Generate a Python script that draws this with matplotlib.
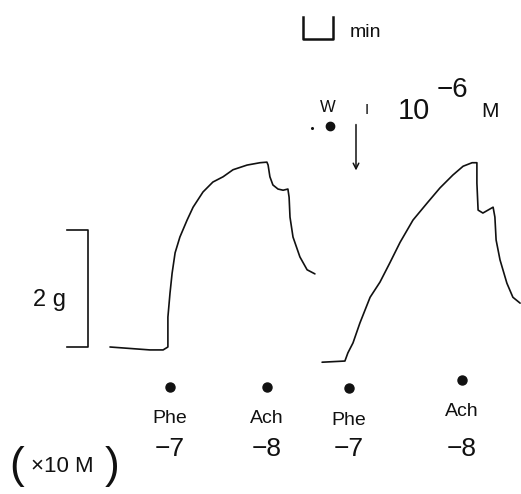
import matplotlib
matplotlib.use("Agg")
import matplotlib.pyplot as plt

plt.rcParams["font.family"] = ["Liberation Sans", "DejaVu Sans"]

# trace 1 (control) : time in min, tension in g
t1 = [0.0, 1.33, 1.77, 1.93, 1.93, 2.0, 2.07, 2.17, 2.33, 2.57, 2.77, 3.1,
      3.43, 3.77, 4.1, 4.57, 5.0, 5.23, 5.27, 5.33, 5.43, 5.6, 5.77, 5.93,
      5.97, 6.0, 6.1, 6.33, 6.57, 6.83]
g1 = [0.0, -0.05, -0.05, 0.0, 0.51, 0.92, 1.26, 1.61, 1.88, 2.17, 2.39, 2.65,
      2.82, 2.91, 3.03, 3.11, 3.15, 3.16, 3.11, 2.91, 2.77, 2.70, 2.68, 2.70,
      2.56, 2.22, 1.88, 1.54, 1.32, 1.25]

# trace 2 (after W I 1e-6 M)
t2 = [7.07, 7.83, 7.93, 8.1, 8.33, 8.67, 9.0, 9.33, 9.67, 10.1, 10.57, 11.0,
      11.43, 11.77, 12.07, 12.23, 12.23, 12.27, 12.43, 12.6, 12.77, 12.83,
      12.87, 13.0, 13.23, 13.43, 13.67]
g2 = [-0.26, -0.24, -0.10, 0.07, 0.41, 0.85, 1.11, 1.44, 1.79, 2.17, 2.46, 2.72,
      2.94, 3.09, 3.15, 3.15, 2.80, 2.34, 2.29, 2.34, 2.39, 2.22, 1.83, 1.49,
      1.09, 0.85, 0.75]

# drug additions
inj_t = [2.0, 5.23, 7.97, 11.73]
inj_drug = ["Phe", "Ach", "Phe", "Ach"]
inj_logdose = [-7, -8, -7, -8]

SCALE_G = 2
SCALE_MIN = 1
INK = "#111111"

fig = plt.figure(figsize=(5.21, 4.94), dpi=100, facecolor="white")
ax = fig.add_axes([0, 0, 1, 1])
ax.set_xlim(-110 / 30, 411 / 30)
ax.set_ylim(-147 / 58.5, 347 / 58.5)
ax.axis("off")

ax.plot(t1, g1, color=INK, lw=1.2, solid_capstyle="round", solid_joinstyle="round")
ax.plot(t2, g2, color=INK, lw=1.2, solid_capstyle="round", solid_joinstyle="round")

# injection dots and labels
dot_y = [-0.68, -0.68, -0.70, -0.56]
for x, y, drug, dose in zip(inj_t, dot_y, inj_drug, inj_logdose):
    ax.plot(x, y, "o", color=INK, ms=6.5)
    ax.text(x, y - 0.55, drug, ha="center", va="center", fontsize=14, color=INK)
    ax.text(x, -1.75, f"\u2212{abs(dose)}", ha="center", va="center",
            fontsize=19, color=INK)

ax.text(-3.1, -2.05, "(", ha="center", va="center", fontsize=32, color=INK)
ax.text(-1.6, -2.05, "\u00d710 M", ha="center", va="center", fontsize=16, color=INK)
ax.text(0.07, -2.05, ")", ha="center", va="center", fontsize=32, color=INK)

# 2 g scale bar
bx = -0.73
ax.plot([bx - 0.7, bx, bx, bx - 0.7], [0, 0, SCALE_G, SCALE_G], color=INK, lw=1.2)
ax.text(-2.0, 0.8, "2 g", ha="center", va="center", fontsize=17, color=INK)

# 1 min scale bar
mx0 = 6.45
ax.plot([mx0, mx0, mx0 + SCALE_MIN, mx0 + SCALE_MIN], [5.64, 5.27, 5.27, 5.64],
        color=INK, lw=1.8)
ax.text(7.98, 5.38, "min", ha="left", va="center", fontsize=14, color=INK)

# W I 10^-6 M marker
ax.plot(7.33, 3.78, "o", color=INK, ms=6)
ax.plot(6.73, 3.74, "o", color=INK, ms=1.2)
ax.text(7.27, 4.09, "W", ha="center", va="center", fontsize=12, color=INK)
ax.text(8.57, 4.05, "I", ha="center", va="center", fontsize=11, color=INK)
ax.annotate("", xy=(8.2, 2.97), xytext=(8.2, 3.85),
            arrowprops=dict(arrowstyle="->", color=INK, lw=1.1))
ax.text(10.13, 4.04, "10", ha="center", va="center", fontsize=21, color=INK)
ax.text(11.43, 4.4, "\u22126", ha="center", va="center", fontsize=20, color=INK)
ax.text(12.67, 4.02, "M", ha="center", va="center", fontsize=15, color=INK)

fig.savefig("out.png", dpi=100, facecolor="white")
